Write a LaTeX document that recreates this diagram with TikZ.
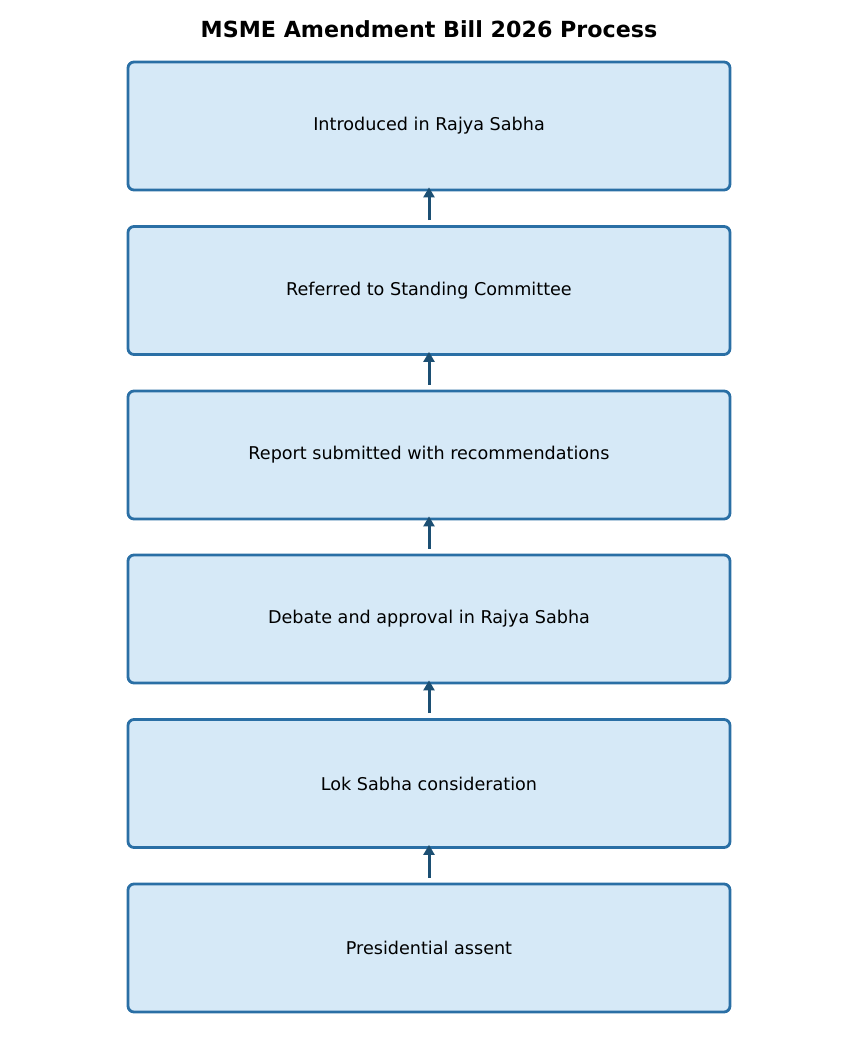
\documentclass[tikz,border=0pt]{standalone}
\usepackage{fontspec}
\setmainfont{DejaVu Sans}
\usetikzlibrary{arrows.meta}
\definecolor{boxfill}{HTML}{D6E9F7}
\definecolor{boxline}{HTML}{2A6FA5}
\definecolor{arrowcol}{HTML}{1C4F73}
\begin{document}
\begin{tikzpicture}[x=1pt,y=1pt,
  stepbox/.style={draw=boxline, fill=boxfill, line width=2.8pt, rounded corners=6pt,
    minimum width=602pt, minimum height=128pt, inner sep=0pt, font=\fontsize{17.6}{21}\selectfont},
  flowarrow/.style={draw=arrowcol, line width=3pt, -{Triangle[length=10pt,width=11pt]}}]
\useasboundingbox (0,0) rectangle (858,-1053);
\node[font=\bfseries\fontsize{22.2}{26}\selectfont] (title) at (429,-29.5) {MSME Amendment Bill 2026 Process};
\node[stepbox] (b1) at (429,-126) {\raisebox{-1pt}{Introduced in Rajya Sabha}};
\node[stepbox] (b2) at (429,-290.5) {\raisebox{-1pt}{Referred to Standing Committee}};
\node[stepbox] (b3) at (429,-455) {\raisebox{-1pt}{Report submitted with recommendations}};
\node[stepbox] (b4) at (429,-619) {\raisebox{-1pt}{Debate and approval in Rajya Sabha}};
\node[stepbox] (b5) at (429,-783.5) {\raisebox{-1pt}{Lok Sabha consideration}};
\node[stepbox] (b6) at (429,-948) {\raisebox{-1pt}{Presidential assent}};
\foreach \lo/\up in {b2/b1,b3/b2,b4/b3,b5/b4,b6/b5}{
  \draw[flowarrow] ([yshift=5pt]\lo.north) -- ([yshift=4pt]\up.south);
}
\end{tikzpicture}
\end{document}
